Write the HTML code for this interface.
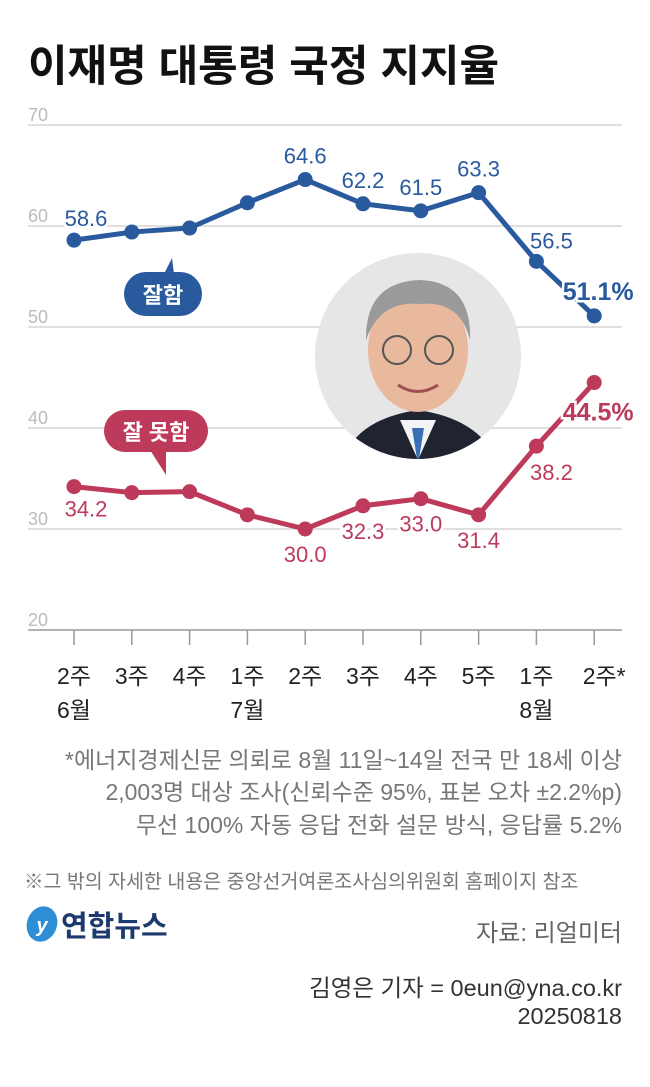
<!DOCTYPE html>
<html><head><meta charset="utf-8">
<style>
body{margin:0;background:#fff;width:650px;height:1087px;overflow:hidden;font-family:"Liberation Sans","Noto Sans CJK KR",sans-serif;}
svg{position:absolute;left:0;top:0}
text{font-family:"Liberation Sans","Noto Sans CJK KR",sans-serif;}
</style></head><body>
<svg width="650" height="1087">
<text x="28" y="81" font-size="43" font-weight="700" fill="#111">이재명 대통령 국정 지지율</text>
<g id="grid"></g>
<g>
<circle cx="418" cy="356" r="103" fill="#e6e6e6"/>
<clipPath id="cp"><circle cx="418" cy="356" r="103"/></clipPath>
<g clip-path="url(#cp)">
<path d="M340 470 Q350 420 418 410 Q486 420 500 470 Z" fill="#1f2430"/>
<path d="M400 420 L418 460 L436 420 Z" fill="#f4f4f4"/>
<path d="M412 428 L418 465 L424 428 Z" fill="#3a6fb5"/>
<ellipse cx="418" cy="350" rx="50" ry="62" fill="#e8b99c"/>
<path d="M366 340 Q365 282 420 280 Q472 282 470 340 Q460 300 420 304 Q380 300 366 340Z" fill="#9a9a9a"/>
<circle cx="397" cy="350" r="14" fill="none" stroke="#555" stroke-width="2"/>
<circle cx="439" cy="350" r="14" fill="none" stroke="#555" stroke-width="2"/>
<path d="M398 385 Q418 398 438 385" stroke="#a05050" stroke-width="3" fill="none"/>
</g></g>
<g id="series"></g>
<g>
<path d="M164 274 L172 258 L174 274 Z" fill="#2a5a9e"/>
<rect x="124" y="272" width="78" height="44" rx="22" fill="#2a5a9e"/>
<text x="163" y="303" font-size="22" font-weight="700" fill="#fff" text-anchor="middle">잘함</text>
</g>
<g>
<path d="M150 450 L166 475 L166 450 Z" fill="#bd3a5a"/>
<rect x="104" y="410" width="104" height="42" rx="21" fill="#bd3a5a"/>
<text x="156" y="440" font-size="22" font-weight="700" fill="#fff" text-anchor="middle">잘 못함</text>
</g>
<g font-size="23" fill="#777" text-anchor="end">
<text x="622" y="768">*에너지경제신문 의뢰로 8월 11일~14일 전국 만 18세 이상</text>
<text x="622" y="800">2,003명 대상 조사(신뢰수준 95%, 표본 오차 ±2.2%p)</text>
<text x="622" y="833">무선 100% 자동 응답 전화 설문 방식, 응답률 5.2%</text>
</g>
<text x="24" y="888" font-size="19.5" fill="#777">※그 밖의 자세한 내용은 중앙선거여론조사심의위원회 홈페이지 참조</text>
<g>
<ellipse cx="42" cy="924" rx="15" ry="18" fill="#2d8ed6" transform="rotate(20 42 924)"/>
<text x="42" y="932" font-size="20" font-style="italic" font-weight="700" fill="#fff" text-anchor="middle">y</text>
<text x="61" y="936" font-size="29" font-weight="700" fill="#1d3a6e">연합뉴스</text>
</g>
<text x="622" y="941" font-size="24" fill="#666" text-anchor="end">자료: 리얼미터</text>
<text x="622" y="996" font-size="23.5" fill="#333" text-anchor="end">김영은 기자 = 0eun@yna.co.kr</text>
<text x="622" y="1024" font-size="23.5" fill="#333" text-anchor="end">20250818</text>
</svg>
<script>
const categories=["2주","3주","4주","1주","2주","3주","4주","5주","1주","2주*"];
const months=["6월","","","7월","","","","","8월",""];
const goodValues=[58.6,59.4,59.8,62.3,64.6,62.2,61.5,63.3,56.5,51.1];
const badValues=[34.2,33.6,33.7,31.4,30.0,32.3,33.0,31.4,38.2,44.5];
const goodLabels=["58.6","","","","64.6","62.2","61.5","63.3","56.5","51.1%"];
const badLabels=["34.2","","","","30.0","32.3","33.0","31.4","38.2","44.5%"];
const yTicks=[20,30,40,50,60,70];
const NS="http://www.w3.org/2000/svg";
const xs=i=>74+i*57.8;
const ys=v=>630-(v-20)*10.1;
function mk(tag,attrs,parent,txt){const e=document.createElementNS(NS,tag);for(const k in attrs)e.setAttribute(k,attrs[k]);if(txt!==undefined)e.textContent=txt;parent.appendChild(e);return e;}
const grid=document.getElementById('grid');
yTicks.forEach(t=>{
 const l=mk('line',{x1:28,x2:622,y1:ys(t),y2:ys(t),stroke:t===20?'#999':'#ccc','stroke-width':t===20?1.5:1.2},grid);
 
 
 const tx=mk('text',{x:28,y:ys(t)-4,'font-size':18,fill:'#bbb'},grid,String(t));
 
 
});
categories.forEach((c,i)=>{
 const tk=mk('line',{x1:xs(i),x2:xs(i),y1:630,y2:645,stroke:'#999','stroke-width':1.5},grid);
 
 
 const t=mk('text',{x:xs(i)+(i===9?10:0),y:684,'font-size':23,fill:'#222','text-anchor':'middle'},grid,c);
 
 
 if(months[i]){const m=mk('text',{x:xs(i),y:718,'font-size':23,fill:'#222','text-anchor':'middle'},grid,months[i]);
 
 }
});
const g=document.getElementById('series');
function series(vals,labels,color,name,below){
 const p=mk('polyline',{points:vals.map((v,i)=>xs(i)+','+ys(v)).join(' '),fill:'none',stroke:color,'stroke-width':5,'stroke-linejoin':'round'},g);
 
 
 vals.forEach((v,i)=>{
  const c=mk('circle',{cx:xs(i),cy:ys(v),r:7.5,fill:color},g);
  
  
  if(labels[i]){
   const last=i===9;
   let x=xs(i),y=below?ys(v)+33:ys(v)-16;
   if(i===0){x+=12;y=below?ys(v)+30:ys(v)-14;}
   if(i===8){x+=15;y=below?ys(v)+34:ys(v)-13;}
   if(last){x=xs(i)+4;y=below?ys(v)+38:ys(v)-16;}
   const t=mk('text',{x:x,y:y,'font-size':last?25:22,'font-weight':last?700:400,fill:color,'text-anchor':'middle',stroke:'#fff','stroke-width':5,'paint-order':'stroke'},g,labels[i]);
   
   
  }
 });
}
series(goodValues,goodLabels,'#2a5a9e','good',false);
series(badValues,badLabels,'#bd3a5a','bad',true);
</script>
</body></html>
